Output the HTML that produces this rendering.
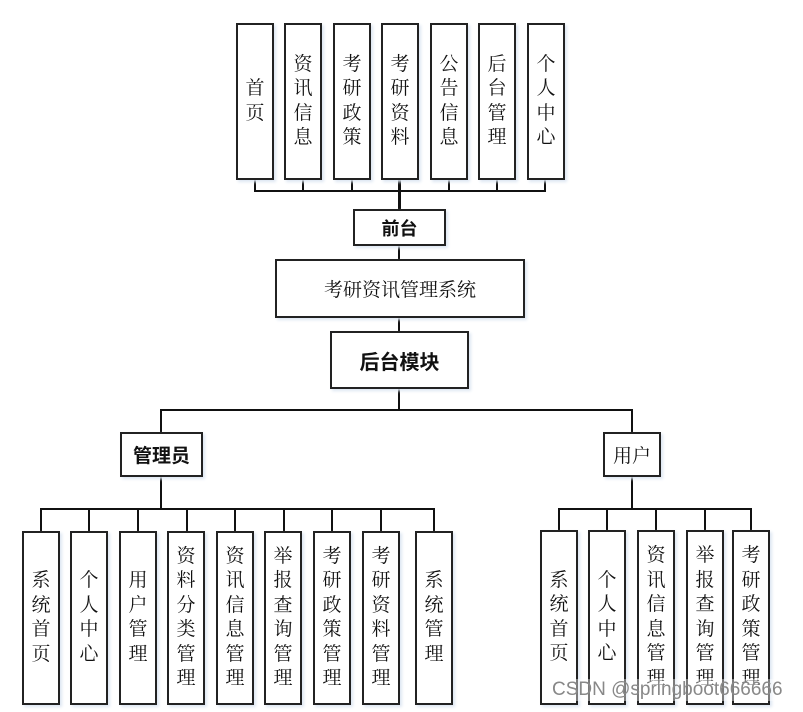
<!DOCTYPE html>
<html><head><meta charset="utf-8"><style>
body{margin:0;width:803px;height:712px;background:#fff;position:relative;overflow:hidden;font-family:"Liberation Sans","Noto Sans CJK SC",sans-serif;}
.b{position:absolute;box-sizing:border-box;border:2px solid #222;background:#fff;display:flex;align-items:center;justify-content:center;color:#111;box-shadow:2px 2px 3px #dde6f2;}
.v{flex-direction:column;font-size:19px;line-height:24.5px;text-align:center;font-family:"Liberation Serif","Noto Serif CJK SC",serif;}
.v span{display:block}
.l{position:absolute;background:#111;}
</style></head><body>
<!-- lines -->
<div class="l" style="left:254px;top:190px;width:292px;height:2px"></div>
<div class="l" style="left:254px;top:178px;width:2px;height:13px"></div>
<div class="l" style="left:302px;top:178px;width:2px;height:13px"></div>
<div class="l" style="left:351px;top:178px;width:2px;height:13px"></div>
<div class="l" style="left:398px;top:178px;width:3px;height:32px"></div>
<div class="l" style="left:448px;top:178px;width:2px;height:13px"></div>
<div class="l" style="left:496px;top:178px;width:2px;height:13px"></div>
<div class="l" style="left:544px;top:178px;width:2px;height:13px"></div>
<div class="l" style="left:398px;top:244px;width:2px;height:16px"></div>
<div class="l" style="left:398px;top:316px;width:2px;height:16px"></div>
<div class="l" style="left:398px;top:387px;width:2px;height:23px"></div>
<div class="l" style="left:160px;top:409px;width:473px;height:2px"></div>
<div class="l" style="left:160px;top:409px;width:2px;height:24px"></div>
<div class="l" style="left:631px;top:409px;width:2px;height:24px"></div>
<div class="l" style="left:160px;top:475px;width:2px;height:35px"></div>
<div class="l" style="left:631px;top:475px;width:2px;height:35px"></div>
<div class="l" style="left:40px;top:508px;width:395px;height:2px"></div>
<div class="l" style="left:558px;top:508px;width:194px;height:2px"></div>
<div class="l" style="left:40px;top:508px;width:2px;height:24px"></div>
<div class="l" style="left:88px;top:508px;width:2px;height:24px"></div>
<div class="l" style="left:137px;top:508px;width:2px;height:24px"></div>
<div class="l" style="left:186px;top:508px;width:2px;height:24px"></div>
<div class="l" style="left:234px;top:508px;width:2px;height:24px"></div>
<div class="l" style="left:283px;top:508px;width:2px;height:24px"></div>
<div class="l" style="left:331px;top:508px;width:2px;height:24px"></div>
<div class="l" style="left:380px;top:508px;width:2px;height:24px"></div>
<div class="l" style="left:433px;top:508px;width:2px;height:24px"></div>
<div class="l" style="left:558px;top:508px;width:2px;height:24px"></div>
<div class="l" style="left:606px;top:508px;width:2px;height:24px"></div>
<div class="l" style="left:655px;top:508px;width:2px;height:24px"></div>
<div class="l" style="left:704px;top:508px;width:2px;height:24px"></div>
<div class="l" style="left:750px;top:508px;width:2px;height:24px"></div>
<!-- top boxes -->
<div class="b v" style="left:236px;top:23px;width:38px;height:157px"><span>首</span><span>页</span></div>
<div class="b v" style="left:284px;top:23px;width:38px;height:157px"><span>资</span><span>讯</span><span>信</span><span>息</span></div>
<div class="b v" style="left:333px;top:23px;width:38px;height:157px"><span>考</span><span>研</span><span>政</span><span>策</span></div>
<div class="b v" style="left:381px;top:23px;width:38px;height:157px"><span>考</span><span>研</span><span>资</span><span>料</span></div>
<div class="b v" style="left:430px;top:23px;width:38px;height:157px"><span>公</span><span>告</span><span>信</span><span>息</span></div>
<div class="b v" style="left:478px;top:23px;width:38px;height:157px"><span>后</span><span>台</span><span>管</span><span>理</span></div>
<div class="b v" style="left:527px;top:23px;width:38px;height:157px"><span>个</span><span>人</span><span>中</span><span>心</span></div>
<div class="b" style="left:353px;top:209px;width:93px;height:37px;font-size:18px;font-weight:bold">前台</div>
<div class="b" style="left:275px;top:259px;width:250px;height:59px;font-size:19px;font-family:'Liberation Serif','Noto Serif CJK SC',serif">考研资讯管理系统</div>
<div class="b" style="left:330px;top:331px;width:139px;height:58px;font-size:20px;font-weight:bold">后台模块</div>
<div class="b" style="left:120px;top:432px;width:83px;height:45px;font-size:19px;font-weight:bold">管理员</div>
<div class="b" style="left:603px;top:432px;width:58px;height:45px;font-size:19px;font-family:'Liberation Serif','Noto Serif CJK SC',serif">用户</div>
<!-- admin boxes -->
<div class="b v" style="left:22px;top:531px;width:38px;height:174px"><span>系</span><span>统</span><span>首</span><span>页</span></div>
<div class="b v" style="left:70px;top:531px;width:38px;height:174px"><span>个</span><span>人</span><span>中</span><span>心</span></div>
<div class="b v" style="left:119px;top:531px;width:38px;height:174px"><span>用</span><span>户</span><span>管</span><span>理</span></div>
<div class="b v" style="left:167px;top:531px;width:38px;height:174px"><span>资</span><span>料</span><span>分</span><span>类</span><span>管</span><span>理</span></div>
<div class="b v" style="left:216px;top:531px;width:38px;height:174px"><span>资</span><span>讯</span><span>信</span><span>息</span><span>管</span><span>理</span></div>
<div class="b v" style="left:264px;top:531px;width:38px;height:174px"><span>举</span><span>报</span><span>查</span><span>询</span><span>管</span><span>理</span></div>
<div class="b v" style="left:313px;top:531px;width:38px;height:174px"><span>考</span><span>研</span><span>政</span><span>策</span><span>管</span><span>理</span></div>
<div class="b v" style="left:362px;top:531px;width:38px;height:174px"><span>考</span><span>研</span><span>资</span><span>料</span><span>管</span><span>理</span></div>
<div class="b v" style="left:415px;top:531px;width:38px;height:174px"><span>系</span><span>统</span><span>管</span><span>理</span></div>
<!-- user boxes -->
<div class="b v" style="left:540px;top:530px;width:38px;height:175px"><span>系</span><span>统</span><span>首</span><span>页</span></div>
<div class="b v" style="left:588px;top:530px;width:38px;height:175px"><span>个</span><span>人</span><span>中</span><span>心</span></div>
<div class="b v" style="left:637px;top:530px;width:38px;height:175px"><span>资</span><span>讯</span><span>信</span><span>息</span><span>管</span><span>理</span></div>
<div class="b v" style="left:686px;top:530px;width:38px;height:175px"><span>举</span><span>报</span><span>查</span><span>询</span><span>管</span><span>理</span></div>
<div class="b v" style="left:732px;top:530px;width:38px;height:175px"><span>考</span><span>研</span><span>政</span><span>策</span><span>管</span><span>理</span></div>
<div style="position:absolute;left:552px;top:679px;font-size:19px;color:#888;background:rgba(255,255,255,.4)">CSDN @springboot666666</div>
</body></html>
